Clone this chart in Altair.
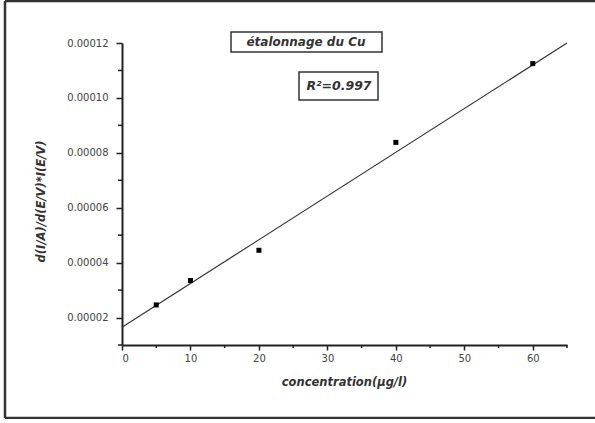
import altair as alt
import pandas as pd

# measured points
conc = [5, 10, 20, 40, 60]
signal = [0.0000246, 0.0000335, 0.0000445, 0.0000838, 0.0001125]

# fitted line endpoints
fit_x = [0, 65]
fit_y = [0.0000165, 0.000120]

x_major = [0, 10, 20, 30, 40, 50, 60]
x_minor = [5, 15, 25, 35, 45, 55, 65]
y_major = [0.00002, 0.00004, 0.00006, 0.00008, 0.00010, 0.00012]
y_minor = [0.00001, 0.00003, 0.00005, 0.00007, 0.00009, 0.00011]

title_text = "étalonnage du Cu"
r2_text = "R²=0.997"
x_title = "concentration(µg/l)"
y_title = "d(I/A)/d(E/V)*I(E/V)"

W, H = 445, 302
FONT = "DejaVu Sans"

pts = pd.DataFrame({"x": conc, "y": signal})
fit = pd.DataFrame({"x": fit_x, "y": fit_y})
xmin = pd.DataFrame({"x": x_minor})
ymin = pd.DataFrame({"y": y_minor})

xs = alt.Scale(domain=[0, 65], nice=False, zero=False)
ys = alt.Scale(domain=[0.00001, 0.00012], nice=False, zero=False)

xaxis = alt.Axis(values=x_major, format="d", title=x_title, grid=False,
                 tickSize=5, tickWidth=1.5, tickColor="#222", domainColor="#222", domainWidth=2,
                 labelFont=FONT, labelFontSize=10, labelColor="#444", labelPadding=3,
                 titleFont=FONT, titleFontSize=11.5, titleFontWeight="bold",
                 titleFontStyle="italic", titleColor="#333", titleX=222, titleY=31)
yaxis = alt.Axis(values=y_major, format=".5f", title=y_title, grid=False,
                 tickSize=6, tickWidth=1.5, tickColor="#222", domainColor="#222", domainWidth=2,
                 labelFont=FONT, labelFontSize=10, labelColor="#444", labelPadding=8,
                 titleFont=FONT, titleFontSize=11.5, titleFontWeight="bold",
                 titleFontStyle="italic", titleColor="#333", titleX=-76, titleY=158)

line = alt.Chart(fit).mark_line(color="#333", strokeWidth=1.2).encode(
    x=alt.X("x:Q", scale=xs, axis=xaxis),
    y=alt.Y("y:Q", scale=ys, axis=yaxis),
)
points = alt.Chart(pts).mark_point(shape="square", filled=True, color="black", size=25, opacity=1).encode(
    x=alt.X("x:Q", scale=xs),
    y=alt.Y("y:Q", scale=ys),
)
xminor = alt.Chart(xmin).mark_rule(color="#222", strokeWidth=1.5).encode(
    x=alt.X("x:Q", scale=xs), y=alt.value(H), y2=alt.value(H + 3)
)
yminor = alt.Chart(ymin).mark_rule(color="#222", strokeWidth=1.5).encode(
    y=alt.Y("y:Q", scale=ys), x=alt.value(0), x2=alt.value(-4)
)

box1 = alt.Chart(pd.DataFrame({"t": [title_text]})).mark_rect(
    fill="white", stroke="#333", strokeWidth=1.5).encode(
    x=alt.value(109), x2=alt.value(260), y=alt.value(-11), y2=alt.value(9))
text1 = alt.Chart(pd.DataFrame({"t": [title_text]})).mark_text(
    font=FONT, fontSize=12, fontWeight="bold", fontStyle="italic", color="#333").encode(
    x=alt.value(184), y=alt.value(-1), text="t:N")
box2 = alt.Chart(pd.DataFrame({"t": [r2_text]})).mark_rect(
    fill="white", stroke="#333", strokeWidth=1.5).encode(
    x=alt.value(177), x2=alt.value(256), y=alt.value(29), y2=alt.value(57))
text2 = alt.Chart(pd.DataFrame({"t": [r2_text]})).mark_text(
    font=FONT, fontSize=12.5, fontWeight="bold", fontStyle="italic", color="#333").encode(
    x=alt.value(217), y=alt.value(43), text="t:N")

fdf = pd.DataFrame({"t": ["frame"]})
frame_top = alt.Chart(fdf).mark_rule(color="#333", strokeWidth=2.5).encode(
    x=alt.value(-117), x2=alt.value(478), y=alt.value(-42), y2=alt.value(-42))
frame_bottom = alt.Chart(fdf).mark_rule(color="#333", strokeWidth=2.5).encode(
    x=alt.value(-117), x2=alt.value(478), y=alt.value(375), y2=alt.value(375))
frame_left = alt.Chart(fdf).mark_rule(color="#333", strokeWidth=2.5).encode(
    x=alt.value(-117), x2=alt.value(-117), y=alt.value(-42), y2=alt.value(375))

chart = alt.layer(frame_top, frame_bottom, frame_left, line, points, xminor, yminor,
                  box1, text1, box2, text2).properties(
    width=W, height=H,
    autosize=alt.AutoSizeParams(type="none"),
    padding={"left": 122, "top": 43, "right": 28, "bottom": 74},
    background="white",
).configure_view(stroke=None)

chart.save("out.html", embed_options={"renderer": "svg", "actions": False})
